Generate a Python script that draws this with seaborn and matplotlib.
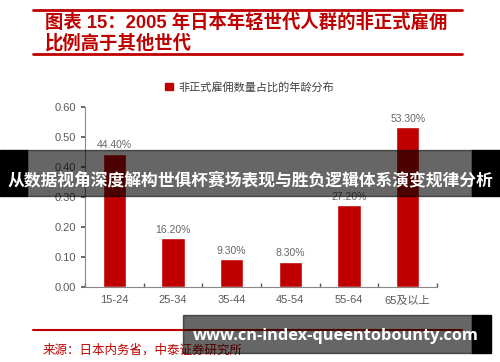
import numpy as np
import matplotlib
matplotlib.use("Agg")
import matplotlib.pyplot as plt
from matplotlib.patches import Rectangle
import seaborn as sns

# 数据
age_groups = ["15-24", "25-34", "35-44", "45-54", "55-64", "65及以上"]
shares = [0.444, 0.162, 0.093, 0.083, 0.272, 0.533]
share_labels = ["44.40%", "16.20%", "9.30%", "8.30%", "27.20%", "53.30%"]
y_ticks = [0.0, 0.1, 0.2, 0.3, 0.4, 0.5, 0.6]

title_lines = ["图表 15：2005 年日本年轻世代人群的非正式雇佣", "比例高于其他世代"]
legend_text = "非正式雇佣数量占比的年龄分布"
source_text = "来源：日本内务省，中泰证券研究所"
banner_text = "从数据视角深度解构世俱杯赛场表现与胜负逻辑体系演变规律分析"
watermark_text = "www.cn-index-queentobounty.com"

RED = "#C00000"
GRAY = "#595959"
W, H = 500, 362

sns.set_theme(style="white")
plt.rcParams["font.family"] = ["Liberation Sans", "Noto Sans CJK SC"]


def fx(x):
    return x / W


def fy(y):
    return 1 - y / H


fig = plt.figure(figsize=(5, 3.62), dpi=100)
ax = fig.add_axes([fx(85), fy(287), fx(437) - fx(85), fy(107) - fy(287)])

sns.barplot(x=age_groups, y=shares, color=RED, saturation=1, width=0.4, ax=ax)
for i, (v, lab) in enumerate(zip(shares, share_labels)):
    ax.text(i, v + 0.012, lab, ha="center", va="bottom", fontsize=7.5, color="#666666")

ax.set_ylim(0, 0.6)
ax.set_xlim(-0.5, 5.5)
ax.set_yticks(y_ticks)
ax.set_yticklabels([f"{t:.2f}" for t in y_ticks])
ax.set_xticks(np.arange(-0.5, 6, 1), minor=True)
ax.tick_params(axis="y", which="major", direction="out", length=3, color=GRAY,
               labelsize=8, labelcolor=GRAY, left=True)
ax.tick_params(axis="x", which="major", length=0, labelsize=8, labelcolor=GRAY, pad=6)
ax.tick_params(axis="x", which="minor", direction="in", length=3, color=GRAY, bottom=True)
ax.set_xlabel("")
ax.set_ylabel("")
for side in ["top", "right"]:
    ax.spines[side].set_visible(False)
for side in ["left", "bottom"]:
    ax.spines[side].set_color("#888888")
    ax.spines[side].set_linewidth(0.8)

# 图例
handle = Rectangle((0, 0), 1, 1, color=RED)
fig.legend([handle], [legend_text], loc="center", bbox_to_anchor=(fx(250), fy(87)),
           frameon=False, fontsize=8, handlelength=0.7, handleheight=0.7,
           handletextpad=0.5, labelcolor="#404040")

# 标题与红线
fig.add_artist(plt.Line2D([fx(33), fx(462)], [fy(10), fy(10)], color=RED, lw=2))
fig.add_artist(plt.Line2D([fx(33), fx(462)], [fy(54), fy(54)], color=RED, lw=2))
fig.text(fx(45), fy(23), title_lines[0], color=RED, fontsize=13.2, fontweight="bold",
         va="center", ha="left")
fig.text(fx(45), fy(43), title_lines[1], color=RED, fontsize=13.2, fontweight="bold",
         va="center", ha="left")

fig.add_artist(plt.Line2D([fx(33), fx(462)], [fy(330), fy(330)], color=RED, lw=1.5))
fig.text(fx(43), fy(350), source_text, color=RED, fontsize=9, va="center", ha="left")

# 横幅遮罩
band_y0, band_y1 = 150, 196
fig.add_artist(Rectangle((0, fy(band_y1)), fx(27), fy(band_y0) - fy(band_y1),
                         transform=fig.transFigure, color="black", zorder=10))
fig.add_artist(Rectangle((fx(27), fy(band_y1)), fx(472) - fx(27), fy(band_y0) - fy(band_y1),
                         transform=fig.transFigure, color="black", alpha=0.6, zorder=10))
fig.add_artist(Rectangle((fx(472), fy(band_y1)), fx(500) - fx(472), fy(band_y0) - fy(band_y1),
                         transform=fig.transFigure, color="black", zorder=10))
fig.text(0.5, fy(180), banner_text, color="white", fontsize=12.1, fontweight="bold",
         ha="center", va="center", zorder=11, family=["Noto Sans CJK SC"])

# 水印
wm_y0, wm_y1 = 315, 353
fig.add_artist(Rectangle((fx(183), fy(wm_y1)), fx(472) - fx(183), fy(wm_y0) - fy(wm_y1),
                         transform=fig.transFigure, color="black", alpha=0.6, zorder=10))
fig.add_artist(Rectangle((fx(472), fy(wm_y1)), fx(491) - fx(472), fy(wm_y0) - fy(wm_y1),
                         transform=fig.transFigure, color="black", zorder=10))
fig.text(fx(336), fy(336), watermark_text, color="white", fontsize=11.8, fontweight="bold",
         ha="center", va="center", zorder=11, family=["Open Sans"])

fig.savefig("out.png", dpi=100)
